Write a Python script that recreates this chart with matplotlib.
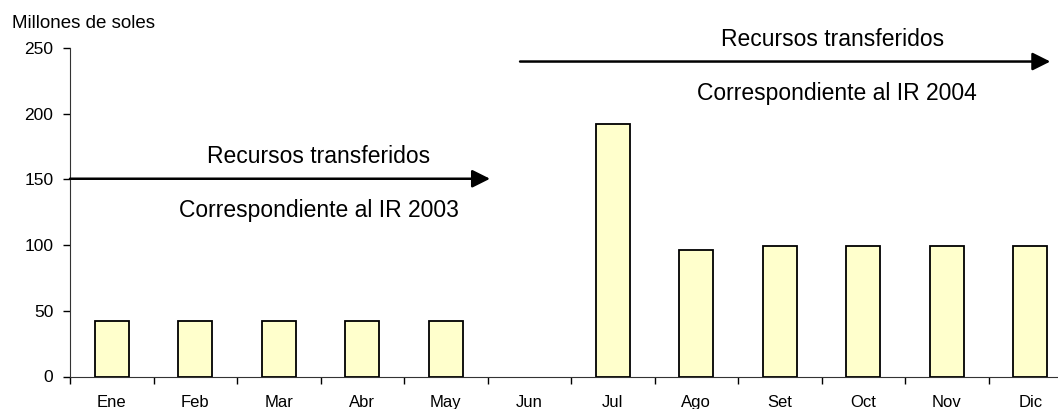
import matplotlib.pyplot as plt
import numpy as np

plt.rcParams['font.family'] = ['Liberation Sans', 'DejaVu Sans']

# Monthly transfers (millones de soles)
meses = ['Ene', 'Feb', 'Mar', 'Abr', 'May', 'Jun', 'Jul', 'Ago', 'Set', 'Oct', 'Nov', 'Dic']
valores = [42, 42, 42, 42, 42, 0, 192, 96.5, 99.3, 99.3, 99.3, 99.3]
yticks = [0, 50, 100, 150, 200, 250]

fig = plt.figure(figsize=(10.58, 4.09), dpi=100)
# axes runs a bit past the right border, like the original export
ax = fig.add_axes([70 / 1058, 1 - 376.5 / 409, 1002 / 1058, 328.5 / 409])

x = np.arange(len(meses))
lw = [1.3 if v > 0 else 0 for v in valores]   # no outline for empty month
ax.bar(x, valores, width=0.41, color='#FFFFCC', edgecolor='black', linewidth=lw, zorder=3)

ax.set_xlim(-0.5, len(meses) - 0.5)
ax.set_ylim(0, 250)
ax.set_yticks(yticks)
ax.tick_params(axis='y', labelsize=12.5, length=5, width=1, direction='out', pad=7)

# tick marks between categories, labels at centres
ax.set_xticks(np.arange(-0.5, len(meses) + 0.5, 1))
ax.set_xticklabels([])
ax.tick_params(axis='x', which='major', length=5, width=1, direction='out')
ax.set_xticks(x, minor=True)
ax.set_xticklabels(meses, minor=True)
ax.tick_params(axis='x', which='minor', length=0, labelsize=12, pad=13.5)

for s in ['top', 'right']:
    ax.spines[s].set_visible(False)
ax.spines['left'].set_color('#333333')
ax.spines['bottom'].set_color('#333333')

arrow = dict(arrowstyle='-|>', color='black', lw=1.8, mutation_scale=27,
             shrinkA=0, shrinkB=0)

# arrows with labels
ax.annotate('', xy=(4.53, 150.5), xytext=(-0.5, 150.5), arrowprops=arrow,
            annotation_clip=False)
ax.text(2.48, 162.5, 'Recursos transferidos', ha='center', va='baseline', fontsize=16.5)
ax.text(2.48, 121.6, 'Correspondiente al IR 2003', ha='center', va='baseline', fontsize=16.5)

ax.annotate('', xy=(11.24, 239.7), xytext=(4.89, 239.7), arrowprops=arrow,
            annotation_clip=False)
ax.text(8.63, 251.7, 'Recursos transferidos', ha='center', va='baseline', fontsize=16.5,
        clip_on=False)
ax.text(8.68, 210.5, 'Correspondiente al IR 2004', ha='center', va='baseline', fontsize=16.5)

fig.text(12 / 1058, 1 - 28 / 409, 'Millones de soles', ha='left', va='baseline', fontsize=13.5)

fig.savefig('out.png', dpi=100)
